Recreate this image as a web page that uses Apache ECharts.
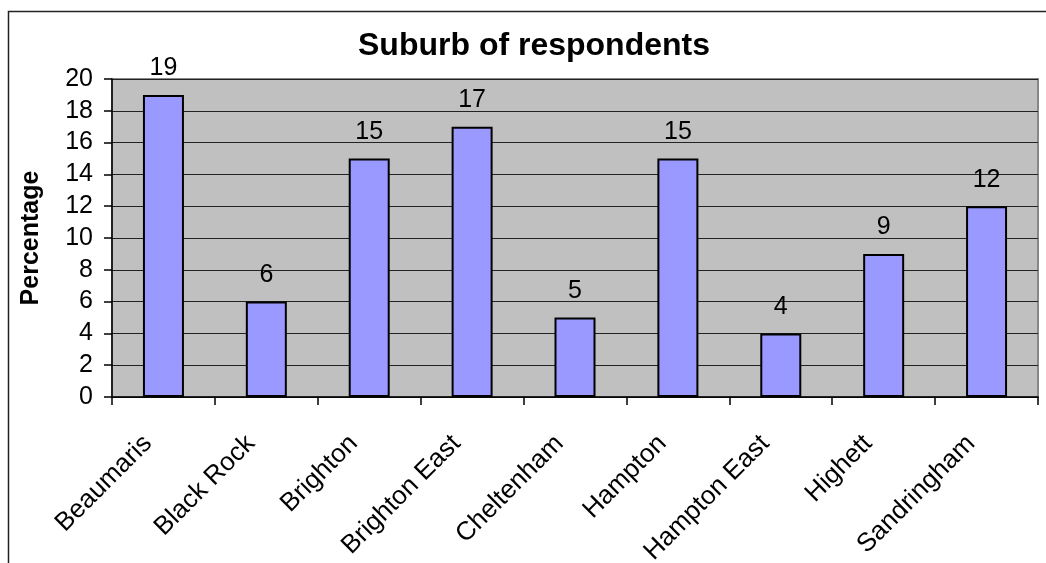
<!DOCTYPE html>
<html>
<head>
<meta charset="utf-8">
<script src="https://cdn.jsdelivr.net/npm/echarts@6/dist/echarts.min.js"></script>
<style>
html,body{margin:0;padding:0;background:#fff;}
#chart{width:1046px;height:563px;}
</style>
</head>
<body>
<div id="chart"></div>
<script>
const categories = ['Beaumaris','Black Rock','Brighton','Brighton East','Cheltenham','Hampton','Hampton East','Highett','Sandringham'];
const percentages = [19, 6, 15, 17, 5, 15, 4, 9, 12];
const yTicks = [0, 2, 4, 6, 8, 10, 12, 14, 16, 18, 20];
const titleText = 'Suburb of respondents';
const yAxisName = 'Percentage';

const chart = echarts.init(document.getElementById('chart'), null, {renderer: 'canvas'});
const FONT = 'Liberation Sans, Arial, sans-serif';
chart.setOption({
  animation: false,
  backgroundColor: '#ffffff',
  title: {
    text: titleText,
    left: 529, top: 25, textAlign: 'center',
    textStyle: {fontFamily: FONT, fontWeight: 'bold', fontSize: 32, color: '#000'}
  },
  graphic: [{
    type: 'rect', silent: true, z: -10,
    shape: {x: 8.5, y: 11.5, width: 1200, height: 700},
    style: {fill: 'none', stroke: '#222', lineWidth: 1.5}
  }],
  grid: {
    left: 112, top: 79, right: 8, bottom: 166,
    containLabel: false, outerBoundsMode: 'none',
    show: true, backgroundColor: '#C0C0C0', borderColor: '#888888', borderWidth: 2
  },
  xAxis: {
    type: 'category',
    data: categories,
    axisLine: {show: true, lineStyle: {color: '#000', width: 1.5}},
    axisTick: {show: true, length: 8, alignWithLabel: false, lineStyle: {color: '#000', width: 1.5}},
    axisLabel: {rotate: 45, margin: 27, padding: [0, 22, 0, 0], fontFamily: FONT, fontSize: 26, color: '#000', interval: 0}
  },
  yAxis: {
    type: 'value',
    min: yTicks[0], max: yTicks[yTicks.length - 1], interval: yTicks[1] - yTicks[0],
    name: yAxisName, nameLocation: 'middle', nameGap: 68, nameRotate: 90,
    nameTextStyle: {fontFamily: FONT, fontWeight: 'bold', fontSize: 25, color: '#000'},
    axisLine: {show: true, lineStyle: {color: '#000', width: 1.5}},
    axisTick: {show: true, length: 8, lineStyle: {color: '#000', width: 1.5}},
    axisLabel: {margin: 19, fontFamily: FONT, fontSize: 25, color: '#000'},
    splitLine: {show: true, lineStyle: {color: '#222', width: 1.2}}
  },
  series: [{
    type: 'bar',
    data: percentages,
    barWidth: 41,
    itemStyle: {color: '#9999FF', borderColor: '#000', borderWidth: 2},
    label: {show: true, position: 'top', distance: 14, fontFamily: FONT, fontSize: 25, color: '#000'}
  }]
});
</script>
</body>
</html>
